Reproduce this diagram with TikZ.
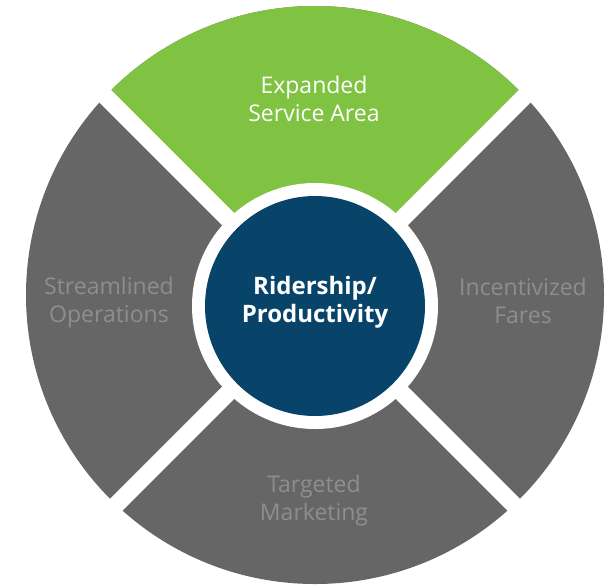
\documentclass[tikz,border=0pt]{standalone}
\usepackage{fontspec}
\setmainfont{Open Sans}
\usetikzlibrary{positioning}

\definecolor{wheelgreen}{HTML}{80C242}
\definecolor{wheelgray}{HTML}{666666}
\definecolor{labelgray}{HTML}{8E8E8E}
\definecolor{hubblue}{HTML}{08446A}

\begin{document}
\begin{tikzpicture}[x=1pt, y=-1pt,
    label/.style = {align=center, font=\fontsize{23}{28}\selectfont, inner sep=0pt},
    gap/.style = {draw=white, line width=17pt}
    ]
\useasboundingbox (0,0) rectangle (607,587);

\coordinate (mid) at (315,295);
\coordinate (hub) at (315,306);

% outer ring
\fill[wheelgray] (mid) circle[radius=289];
\begin{scope}
  \clip (hub) -- ++(-400,-400) -- ++(800,0) -- cycle;
  \fill[wheelgreen] (mid) circle[radius=289];
\end{scope}

% white gaps
\draw[gap] (hub) -- ++(-320,-320);
\draw[gap] (hub) -- ++(320,-320);
\draw[gap] (hub) -- ++(-320,320);
\draw[gap] (hub) -- ++(320,320);

% hub
\fill[white] (hub) circle[radius=123];
\fill[hubblue] (hub) circle[radius=110];

\node[label, text=white] (expanded) at (314,99) {Expanded\\Service Area};
\node[label, text=labelgray] (streamlined) at (109,303) {Streamlined\\Operations};
\node[label, text=labelgray] (incentivized) at (523,301) {Incentivized\\Fares};
\node[label, text=labelgray] (targeted) at (314,501) {Targeted\\Marketing};
\node[label, text=white, font=\fontsize{24}{28}\selectfont\bfseries] (ridership) at (315,302) {Ridership/\\Productivity};

\end{tikzpicture}
\end{document}
